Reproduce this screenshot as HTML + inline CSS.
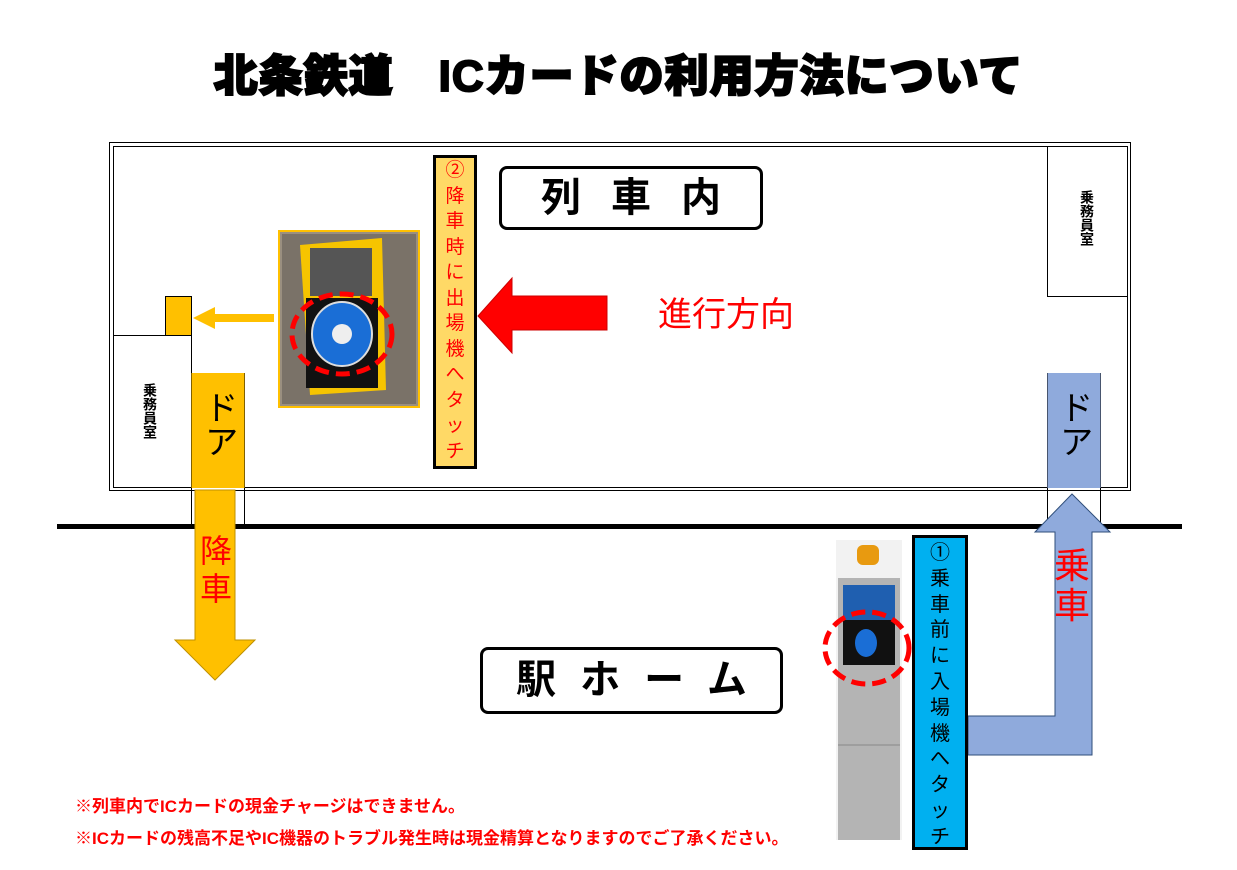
<!DOCTYPE html>
<html><head><meta charset="utf-8"><style>
body{margin:0;width:1237px;height:870px;background:#fff;position:relative;overflow:hidden;font-family:"Liberation Sans","Noto Sans CJK JP",sans-serif}
.a{position:absolute}
.v{writing-mode:vertical-rl;text-orientation:upright}
.col{text-align:center}
</style></head><body>
<svg class="a" style="left:0;top:0" width="1237" height="870">
<rect x="109.5" y="142.5" width="1021" height="348" fill="none" stroke="#000"/>
<rect x="113.5" y="146.5" width="1014" height="341" fill="none" stroke="#000"/>
<path d="M1047.5 146V296.5H1127" fill="none" stroke="#000"/>
<path d="M113 335.5H191.5V525" fill="none" stroke="#000"/>
<rect x="165.5" y="296.5" width="26" height="39" fill="#ffc000" stroke="#000"/>
<path d="M244.5 373V525M1047.5 373V525M1100.5 373V525" stroke="#000"/>
<rect x="191.5" y="373" width="53" height="115" fill="#ffc000"/>
<rect x="1047.5" y="373" width="53" height="115" fill="#8faadc"/>
<path d="M274 314H215V307L193 318L215 329V322H274Z" fill="#ffc000"/>
<rect x="57" y="524" width="1125" height="5" fill="#000"/>
<path d="M195 490H235V640H255L215 680L175 640H195Z" fill="#ffc000" stroke="#bf9000"/>
<path d="M607 296V330H512V353L478 316L512 278V296Z" fill="#f00" stroke="#c00"/>
<path d="M1072 494L1110 532H1092V755H968V716H1055V532H1035Z" fill="#8faadc" stroke="#2f4e7a"/>
<rect x="279" y="231" width="140" height="176" fill="#9a8f80" stroke="#ffc000" stroke-width="2"/>
<rect x="282" y="234" width="134" height="170" fill="#7a7268"/>
<path d="M300 245L382 238L386 390L310 395Z" fill="#f6c400"/>
<rect x="310" y="248" width="62" height="48" fill="#555"/>
<rect x="306" y="298" width="72" height="90" fill="#111"/>
<ellipse cx="342" cy="334" rx="30" ry="32" fill="#1a6ed6" stroke="#ddd" stroke-width="2"/>
<circle cx="342" cy="334" r="10" fill="#eee"/>
<ellipse cx="342" cy="334" rx="50" ry="40" fill="none" stroke="#f00" stroke-width="5" stroke-dasharray="14 7"/>
<rect x="836" y="540" width="66" height="300" fill="#f2f2f2"/>
<rect x="857" y="545" width="22" height="20" rx="6" fill="#e89a10"/>
<rect x="838" y="578" width="62" height="262" fill="#b4b4b4"/>
<rect x="843" y="585" width="52" height="52" fill="#1f5fb0"/>
<rect x="843" y="620" width="52" height="45" fill="#111"/>
<ellipse cx="866" cy="643" rx="11" ry="14" fill="#1a6ed6"/>
<ellipse cx="867" cy="648" rx="42" ry="36" fill="none" stroke="#f00" stroke-width="5" stroke-dasharray="14 7"/>
<line x1="838" y1="745" x2="900" y2="745" stroke="#888"/>
</svg>
<div class="a" style="left:0;width:1237px;top:40px;text-align:center;font-size:44px;font-weight:900;letter-spacing:1px;-webkit-text-stroke:2px #000">北条鉄道　ICカードの利用方法について</div>
<div class="a v" style="left:1080px;top:190px;font-size:14px;font-weight:bold;line-height:14px">乗務員室</div>
<div class="a v" style="left:143px;top:383px;font-size:14px;font-weight:bold;line-height:14px">乗務員室</div>
<div class="a v" style="left:199px;top:390px;font-size:34px;line-height:38px">ドア</div>
<div class="a v" style="left:1054px;top:390px;font-size:34px;line-height:38px">ドア</div>
<div class="a col" style="left:197px;top:532px;width:38px;font-size:32px;color:#f00;line-height:38px">降<br>車</div>
<div class="a col" style="left:1052px;top:546px;width:40px;font-size:36px;color:#f00;line-height:40px">乗<br>車</div>
<div class="a col" style="left:433px;top:155px;width:38px;height:308px;background:#ffd966;border:3px solid #000;color:#f00;font-size:19px;line-height:25.5px;overflow:hidden">②<br>降<br>車<br>時<br>に<br>出<br>場<br>機<br>へ<br>タ<br>ッ<br>チ</div>
<div class="a col" style="left:912px;top:535px;width:50px;height:306px;padding-top:3px;background:#00b0f0;border:3px solid #000;color:#000;font-size:20px;line-height:25.8px">①<br>乗<br>車<br>前<br>に<br>入<br>場<br>機<br>へ<br>タ<br>ッ<br>チ</div>
<div class="a" style="left:499px;top:166px;width:258px;height:58px;border:3px solid #000;border-radius:8px;font-size:40px;font-weight:bold;line-height:58px;text-align:center;letter-spacing:30px;text-indent:30px">列車内</div>
<div class="a" style="left:480px;top:647px;width:297px;height:61px;border:3px solid #000;border-radius:8px;font-size:40px;font-weight:bold;line-height:61px;text-align:center;letter-spacing:24px;text-indent:24px">駅ホーム</div>
<div class="a" style="left:658px;top:287px;font-size:34px;color:#f00">進行方向</div>
<div class="a" style="left:75px;top:792px;font-size:17px;color:#f00;font-weight:bold">※列車内でICカードの現金チャージはできません。</div>
<div class="a" style="left:75px;top:824px;font-size:17px;color:#f00;font-weight:bold">※ICカードの残高不足やIC機器のトラブル発生時は現金精算となりますのでご了承ください。</div>
</body></html>
